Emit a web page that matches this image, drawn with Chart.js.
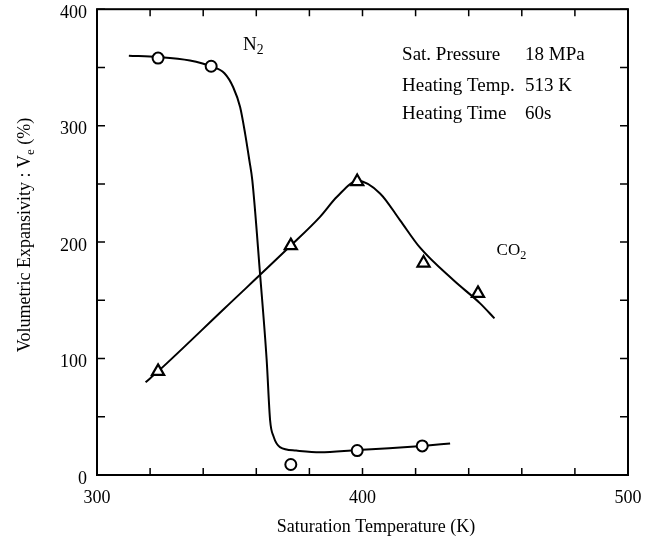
<!DOCTYPE html>
<html><head><meta charset="utf-8">
<script src="https://cdn.jsdelivr.net/npm/chart.js@4/dist/chart.umd.min.js"></script>
<style>html,body{margin:0;padding:0;background:#fff}#wrap{width:652px;height:544px}</style>
</head><body><div id="wrap"><canvas id="c" width="652" height="544"></canvas></div>
<script>
// Measured points
const n2Temp = [323, 343, 373, 398, 422.5];
const n2Vals = [358, 351, 9, 21, 25];
const co2Temp = [323, 373, 398, 423, 443.5];
const co2Vals = [89, 197, 252, 182, 156];
// Hand-drawn fitted curves
const n2CurveT = [312, 323, 335, 343, 348, 351.3, 353.9, 355.8, 357.4, 358.5, 361.4, 363.9, 365.2, 366.5, 368.9, 375, 384, 398, 410, 422.5, 433];
const n2CurveV = [360, 359, 356, 351, 345, 333, 316, 293, 270, 253, 173, 99, 47, 33, 24, 21, 19.5, 21.5, 23, 25, 27];
const co2CurveT = [318.3, 323, 348, 373, 384, 390.4, 398.2, 406.6, 414.1, 421.6, 434.2, 444.3, 449.7];
const co2CurveV = [79.6, 89, 143, 197, 221.7, 238.9, 252.6, 241.8, 218.9, 195.4, 167.4, 147.4, 134.5];
const xLabels = [300, 400, 500];
const yLabels = [0, 100, 200, 300, 400];

const pts = (xs, ys) => xs.map((x, i) => ({x, y: ys[i]}));
const FONT = '"Liberation Serif", "Times New Roman", serif';

function richText(ctx, x, y, segs, size, align) {
  let total = 0;
  segs.forEach(s => { ctx.font = (s[1] ? size * 0.72 : size) + 'px ' + FONT; total += ctx.measureText(s[0]).width; });
  let cx = align === 'center' ? x - total / 2 : x;
  ctx.textBaseline = 'alphabetic';
  ctx.textAlign = 'left';
  segs.forEach(s => {
    ctx.font = (s[1] ? size * 0.72 : size) + 'px ' + FONT;
    ctx.fillText(s[0], cx, y + (s[1] ? size * 0.22 : 0));
    cx += ctx.measureText(s[0]).width;
  });
}

const framePlugin = {
  id: 'frame',
  afterDraw(chart) {
    const {ctx, chartArea: a, scales: {x, y}} = chart;
    ctx.save();
    ctx.strokeStyle = '#000';
    ctx.lineWidth = 2;
    ctx.strokeRect(a.left, a.top, a.right - a.left, a.bottom - a.top);
    ctx.lineWidth = 1.5;
    ctx.beginPath();
    x.ticks.forEach(t => {
      const px = x.getPixelForValue(t.value);
      ctx.moveTo(px, a.bottom); ctx.lineTo(px, a.bottom - 7);
      ctx.moveTo(px, a.top); ctx.lineTo(px, a.top + 7);
    });
    y.ticks.forEach(t => {
      const py = y.getPixelForValue(t.value);
      ctx.moveTo(a.left, py); ctx.lineTo(a.left + 8, py);
      ctx.moveTo(a.right, py); ctx.lineTo(a.right - 8, py);
    });
    ctx.stroke();
    ctx.fillStyle = '#000';
    // series labels
    richText(ctx, x.getPixelForValue(355), y.getPixelForValue(365), [['N', false], ['2', true]], 19, 'left');
    richText(ctx, x.getPixelForValue(450.5), y.getPixelForValue(188.8), [['CO', false], ['2', true]], 17, 'left');
    // conditions
    const lx = x.getPixelForValue(414.9), vx = x.getPixelForValue(461.2);
    const rows = [['Sat. Pressure', '18 MPa', 356], ['Heating Temp.', '513 K', 330], ['Heating Time', '60s', 305.5]];
    rows.forEach(r => {
      richText(ctx, lx, y.getPixelForValue(r[2]), [[r[0], false]], 19, 'left');
      richText(ctx, vx, y.getPixelForValue(r[2]), [[r[1], false]], 19, 'left');
    });
    // axis titles
    richText(ctx, 376, 532, [['Saturation Temperature (K)', false]], 18, 'center');
    ctx.translate(30, 235);
    ctx.rotate(-Math.PI / 2);
    richText(ctx, 0, 0, [['Volumetric Expansivity : V', false], ['e', true], [' (%)', false]], 18, 'center');
    ctx.restore();
  }
};

new Chart(document.getElementById('c'), {
  type: 'scatter',
  data: {
    datasets: [
      {data: pts(n2CurveT, n2CurveV), showLine: true, borderColor: '#000', borderWidth: 2, pointRadius: 0, cubicInterpolationMode: 'monotone', order: 3},
      {data: pts(co2CurveT, co2CurveV), showLine: true, borderColor: '#000', borderWidth: 2, pointRadius: 0, cubicInterpolationMode: 'monotone', order: 3},
      {data: pts(n2Temp, n2Vals), showLine: false, pointStyle: 'circle', pointRadius: 5.5, pointBorderWidth: 2, pointBackgroundColor: '#fff', pointBorderColor: '#000', order: 1},
      {data: pts(co2Temp, co2Vals), showLine: false, pointStyle: 'triangle', pointRadius: 7, pointBorderWidth: 2.2, pointBackgroundColor: '#fff', pointBorderColor: '#000', order: 1}
    ]
  },
  options: {
    responsive: false,
    animation: false,
    layout: {padding: {top: 9, right: 24, left: 0, bottom: 0}},
    plugins: {legend: {display: false}, tooltip: {enabled: false}},
    scales: {
      x: {
        type: 'linear', min: 300, max: 500,
        afterFit: s => { s.height = 69; s.paddingLeft = 0; s.paddingRight = 0; },
        grid: {display: false, drawTicks: false},
        border: {display: false},
        ticks: {stepSize: 20, autoSkip: false, maxRotation: 0, padding: 12, color: '#000', font: {family: FONT, size: 18},
          callback: v => xLabels.includes(v) ? String(v) : ''}
      },
      y: {
        type: 'linear', min: 0, max: 400,
        afterFit: s => { s.width = 97; s.paddingTop = 0; s.paddingBottom = 0; },
        grid: {display: false, drawTicks: false},
        border: {display: false},
        ticks: {stepSize: 50, autoSkip: false, padding: 10, labelOffset: 4, color: '#000', font: {family: FONT, size: 18},
          callback: v => yLabels.includes(v) ? String(v) : ''}
      }
    }
  },
  plugins: [framePlugin]
});
</script></body></html>
